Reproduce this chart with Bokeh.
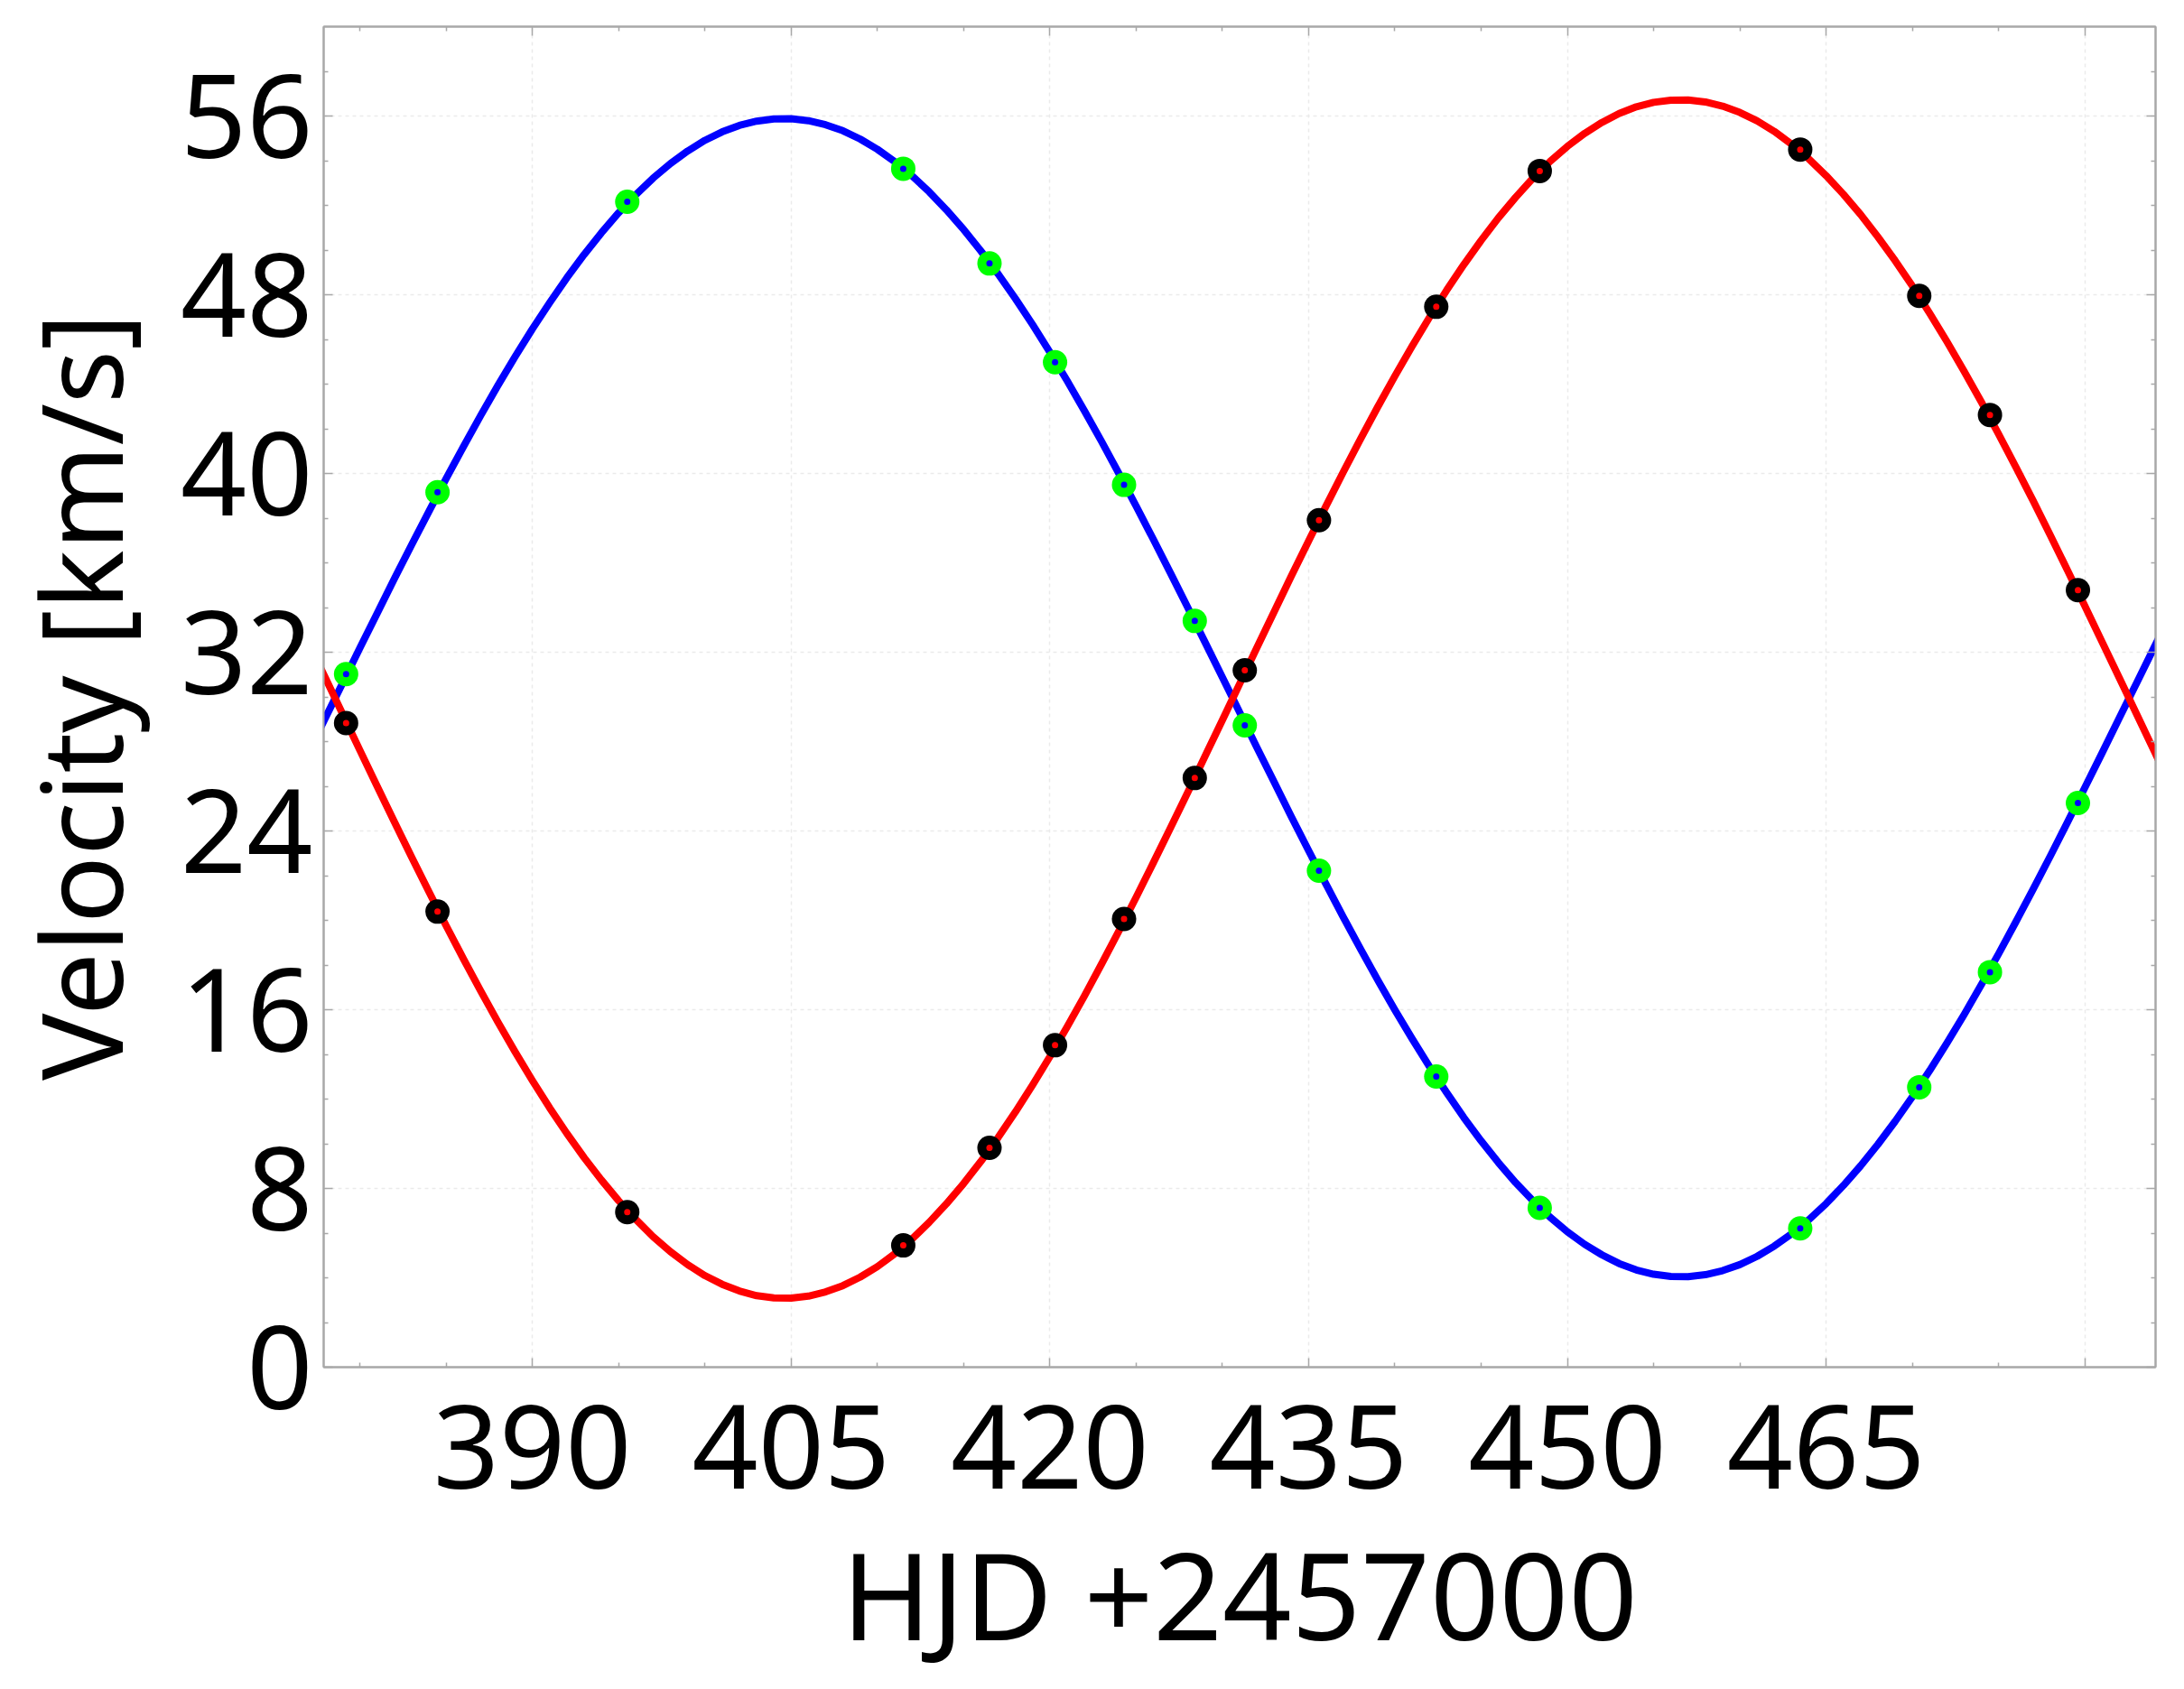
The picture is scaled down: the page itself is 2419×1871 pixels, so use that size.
from bokeh.plotting import figure
from bokeh.models import Range1d, FixedTicker, LinearAxis
from bokeh.embed import file_html
from bokeh.resources import INLINE

# ---- data ----
# fitted curves, sampled once per day (HJD - 2457000 = 376 ... 486)
curve_x = list(range(376, 487))
blue_curve = [
    25.94, 27.49, 29.06, 30.62, 32.19, 33.74, 35.29, 36.81, 38.30, 39.77,
    41.20, 42.59, 43.94, 45.23, 46.47, 47.64, 48.76, 49.80, 50.77, 51.67,
    52.48, 53.22, 53.87, 54.43, 54.91, 55.29, 55.58, 55.77, 55.87, 55.88,
    55.79, 55.61, 55.34, 54.97, 54.51, 53.96, 53.33, 52.61, 51.80, 50.92,
    49.96, 48.93, 47.83, 46.66, 45.43, 44.15, 42.81, 41.43, 40.00, 38.54,
    37.05, 35.53, 33.99, 32.44, 30.88, 29.31, 27.74, 26.19, 24.64, 23.12,
    21.63, 20.16, 18.73, 17.34, 15.99, 14.70, 13.46, 12.29, 11.17, 10.13,
    9.16, 8.26, 7.45, 6.71, 6.06, 5.50, 5.03, 4.64, 4.35, 4.16,
    4.06, 4.05, 4.14, 4.32, 4.59, 4.96, 5.42, 5.97, 6.60, 7.32,
    8.13, 9.01, 9.97, 11.00, 12.10, 13.27, 14.50, 15.78, 17.12, 18.50,
    19.93, 21.39, 22.88, 24.40, 25.94, 27.49, 29.06, 30.62, 32.19, 33.74,
    35.29]
red_curve = [
    34.07, 32.46, 30.85, 29.23, 27.61, 26.00, 24.40, 22.83, 21.28, 19.76,
    18.28, 16.84, 15.45, 14.11, 12.83, 11.61, 10.46, 9.38, 8.38, 7.45,
    6.61, 5.84, 5.17, 4.59, 4.10, 3.71, 3.41, 3.20, 3.10, 3.09,
    3.18, 3.37, 3.65, 4.03, 4.50, 5.07, 5.73, 6.48, 7.31, 8.22,
    9.21, 10.28, 11.42, 12.63, 13.90, 15.23, 16.61, 18.05, 19.52, 21.03,
    22.58, 24.15, 25.74, 27.35, 28.96, 30.58, 32.20, 33.81, 35.41, 36.98,
    38.53, 40.05, 41.53, 42.97, 44.36, 45.70, 46.98, 48.20, 49.35, 50.43,
    51.44, 52.36, 53.21, 53.97, 54.64, 55.22, 55.71, 56.11, 56.41, 56.61,
    56.71, 56.72, 56.63, 56.44, 56.16, 55.78, 55.31, 54.74, 54.08, 53.33,
    52.50, 51.59, 50.59, 49.53, 48.39, 47.18, 45.91, 44.58, 43.20, 41.76,
    40.29, 38.78, 37.23, 35.66, 34.07, 32.46, 30.85, 29.23, 27.61, 26.00,
    24.40]

# observations
obs_x = [379.2, 384.5, 395.5, 411.5, 416.5, 420.3, 424.3, 428.4, 431.3, 435.6,
         442.4, 448.4, 463.5, 470.4, 474.5, 479.6]
blue_obs = [31.02, 39.16, 52.16, 53.64, 49.40, 44.98, 39.49, 33.40, 28.73, 22.22,
            13.01, 7.13, 6.21, 12.53, 17.68, 25.25]
red_obs = [28.83, 20.39, 6.94, 5.45, 9.82, 14.41, 20.06, 26.37, 31.19, 37.91,
           47.46, 53.54, 54.50, 47.95, 42.62, 34.78]

x_major = [390, 405, 420, 435, 450, 465, 480]
x_minor = [380, 385, 395, 400, 410, 415, 425, 430, 440, 445, 455, 460, 470, 475]
y_major = [0, 8, 16, 24, 32, 40, 48, 56]
y_minor = [2, 4, 6, 10, 12, 14, 18, 20, 22, 26, 28, 30, 34, 36, 38, 42, 44, 46,
           50, 52, 54, 58]

FONT = "Noto Sans"
GRAY = "#a8a8a8"

p = figure(width=2419, height=1871, output_backend="svg", toolbar_location=None,
           x_range=Range1d(377.9, 484.1), y_range=Range1d(0, 60),
           min_border_left=358, min_border_right=32, min_border_top=29,
           min_border_bottom=357)
p.background_fill_color = "white"
p.border_fill_color = "white"
p.outline_line_color = GRAY
p.outline_line_width = 2

xt = FixedTicker(ticks=x_major, minor_ticks=x_minor)
yt = FixedTicker(ticks=y_major, minor_ticks=y_minor)

def style_axis(ax, ticker):
    ax.ticker = ticker
    ax.axis_line_color = GRAY
    ax.axis_line_width = 2
    ax.major_tick_line_color = GRAY
    ax.minor_tick_line_color = GRAY
    ax.major_tick_line_width = 1.5
    ax.minor_tick_line_width = 1.5
    ax.major_tick_in = 10
    ax.major_tick_out = 0
    ax.minor_tick_in = 5
    ax.minor_tick_out = 0

xa = p.xaxis[0]
style_axis(xa, xt)
xa.major_label_overrides = {480: ""}
xa.major_label_text_font = FONT
xa.major_label_text_font_size = "128px"
xa.major_label_text_color = "black"
xa.major_label_standoff = 42
xa.axis_label = "HJD +2457000"
xa.axis_label_text_font = FONT
xa.axis_label_text_font_size = "134px"
xa.axis_label_text_font_style = "normal"
xa.axis_label_text_color = "black"
xa.axis_label_standoff = 22

ya = p.yaxis[0]
style_axis(ya, yt)
ya.major_label_text_font = FONT
ya.major_label_text_font_size = "128px"
ya.major_label_text_color = "black"
ya.major_label_standoff = 12
ya.axis_label = "Velocity [km/s]"
ya.axis_label_text_font = FONT
ya.axis_label_text_font_size = "124px"
ya.axis_label_text_font_style = "normal"
ya.axis_label_text_color = "black"
ya.axis_label_standoff = 25

top = LinearAxis()
style_axis(top, xt)
top.major_label_text_color = None
top.major_label_text_font_size = "8px"
p.add_layout(top, "above")

right = LinearAxis()
style_axis(right, yt)
right.major_label_text_color = None
right.major_label_text_font_size = "8px"
p.add_layout(right, "right")

p.xgrid.ticker = xt
p.ygrid.ticker = yt
for g in (p.xgrid, p.ygrid):
    g.grid_line_color = "#ebebeb"
    g.grid_line_dash = "4 4"
    g.grid_line_width = 1.5

p.line(curve_x, blue_curve, line_color="#0000ff", line_width=8, line_join="round")
p.line(curve_x, red_curve, line_color="#ff0000", line_width=8, line_join="round")
p.scatter(obs_x, blue_obs, marker="circle", size=27, fill_color="#00ff00", line_color=None)
p.scatter(obs_x, blue_obs, marker="circle", size=7, fill_color="#0000ff", line_color=None)
p.scatter(obs_x, red_obs, marker="circle", size=27, fill_color="black", line_color=None)
p.scatter(obs_x, red_obs, marker="circle", size=7, fill_color="#ff0000", line_color=None)

open("out.html", "w").write(file_html(p, INLINE))
